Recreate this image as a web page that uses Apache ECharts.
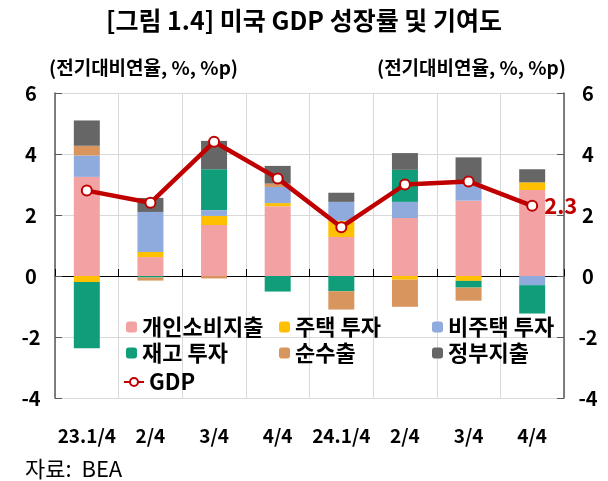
<!DOCTYPE html>
<html>
<head>
<meta charset="utf-8">
<script src="https://cdn.jsdelivr.net/npm/echarts@6/dist/echarts.min.js"></script>
<style>html,body{margin:0;padding:0;background:#fff}#c{width:608px;height:481px}</style>
</head>
<body>
<div id="c"></div>
<script>
var categories = ['23.1/4', '2/4', '3/4', '4/4', '24.1/4', '2/4', '3/4', '4/4'];
var personal  = [3.25, 0.62, 1.67, 2.29, 1.28, 1.90, 2.47, 2.82];
var housing   = [-0.20, 0.17, 0.30, 0.10, 0.53, -0.12, -0.16, 0.25];
var nonres    = [0.70, 1.31, 0.19, 0.53, 0.62, 0.53, 0.57, -0.30];
var inventory = [-2.17, -0.05, 1.34, -0.51, -0.50, 1.05, -0.22, -0.93];
var netExport = [0.32, -0.10, -0.08, 0.11, -0.60, -0.89, -0.43, 0];
var gov       = [0.83, 0.46, 0.93, 0.58, 0.30, 0.55, 0.85, 0.43];
var gdp       = [2.8, 2.4, 4.4, 3.2, 1.6, 3.0, 3.1, 2.3];
var yTicks    = [-4, -2, 0, 2, 4, 6];

var FONT = '"Noto Sans CJK KR", "Noto Sans", sans-serif';
var chart = echarts.init(document.getElementById('c'), null, {renderer: 'canvas'});

function barSeries(name, data, color) {
  return {
    name: name, type: 'bar', stack: 'total', data: data, barWidth: 26,
    itemStyle: {color: color}, xAxisIndex: 0, yAxisIndex: 0
  };
}

var legendText = {fontFamily: FONT, fontSize: 22, fontWeight: 'bold', color: '#000'};

var gdpData = gdp.map(function (v, i) {
  if (i === gdp.length - 1) {
    return {value: v, label: {show: true, position: 'right', distance: 6,
      formatter: function (p) { return p.value.toFixed(1); },
      color: '#C00000', fontFamily: FONT, fontSize: 22, fontWeight: 'bold'}};
  }
  return v;
});

chart.setOption({
  animation: false,
  backgroundColor: '#fff',
  title: [
    {text: '[그림 1.4] 미국 GDP 성장률 및 기여도', left: 'center', top: 3,
     textStyle: {fontFamily: FONT, fontSize: 25, fontWeight: 'bold', color: '#000'}},
    {text: '자료:  BEA', left: 20, top: 453,
     textStyle: {fontFamily: FONT, fontSize: 22, fontWeight: 'normal', color: '#000'}}
  ],
  grid: {left: 55, right: 44, top: 93, bottom: 83, containLabel: false},
  legend: [
    {data: ['개인소비지출', '재고 투자'], orient: 'vertical', left: 121, top: 311,
     itemWidth: 11, itemHeight: 11, itemGap: 4, textStyle: legendText, selectedMode: false},
    {data: ['주택 투자', '순수출'], orient: 'vertical', left: 274, top: 311,
     itemWidth: 11, itemHeight: 11, itemGap: 4, textStyle: legendText, selectedMode: false},
    {data: ['비주택 투자', '정부지출'], orient: 'vertical', left: 427, top: 311,
     itemWidth: 11, itemHeight: 11, itemGap: 4, textStyle: legendText, selectedMode: false},
    {data: ['GDP'], left: 118, top: 366, itemWidth: 20, itemHeight: 10,
     textStyle: legendText, selectedMode: false}
  ],
  xAxis: [
    {type: 'category', data: categories, position: 'bottom',
     axisLine: {onZero: true, lineStyle: {color: '#000', width: 1}},
     axisTick: {show: true, inside: true, length: 7, lineStyle: {color: '#000'}},
     axisLabel: {show: false},
     splitLine: {show: true, lineStyle: {color: '#D9D9D9', width: 1}}},
    {type: 'category', data: categories, position: 'bottom',
     axisLine: {show: false, onZero: false}, axisTick: {show: false},
     splitLine: {show: false},
     axisLabel: {show: true, margin: 28, interval: 0, color: '#000',
       fontFamily: FONT, fontSize: 19, fontWeight: 'bold'}}
  ],
  yAxis: [
    {type: 'value', min: -4, max: 6, interval: 2, position: 'left',
     name: '(전기대비연율, %, %p)', nameLocation: 'end', nameGap: 16,
     nameTextStyle: {fontFamily: FONT, fontSize: 19, fontWeight: 'bold', color: '#000',
       align: 'left', padding: [0, 0, 0, -6]},
     axisLine: {show: true, lineStyle: {color: '#595959', width: 1.5}},
     axisTick: {show: true, inside: true, length: 7, lineStyle: {color: '#595959'}},
     axisLabel: {color: '#000', fontFamily: FONT, fontSize: 20, fontWeight: 'bold',
       margin: 24, align: 'center'},
     splitLine: {show: true, lineStyle: {color: '#D9D9D9', width: 1}}},
    {type: 'value', min: -4, max: 6, interval: 2, position: 'right',
     name: '(전기대비연율, %, %p)', nameLocation: 'end', nameGap: 16,
     nameTextStyle: {fontFamily: FONT, fontSize: 19, fontWeight: 'bold', color: '#000',
       align: 'right', padding: [0, -2, 0, 0]},
     axisLine: {show: true, lineStyle: {color: '#595959', width: 1.5}},
     axisTick: {show: true, inside: true, length: 7, lineStyle: {color: '#595959'}},
     axisLabel: {color: '#000', fontFamily: FONT, fontSize: 20, fontWeight: 'bold',
       margin: 24, align: 'center'},
     splitLine: {show: false}}
  ],
  series: [
    barSeries('개인소비지출', personal, '#F2A2A2'),
    barSeries('주택 투자', housing, '#FFC000'),
    barSeries('비주택 투자', nonres, '#8FAADC'),
    barSeries('재고 투자', inventory, '#0F9D7A'),
    barSeries('순수출', netExport, '#D9955E'),
    barSeries('정부지출', gov, '#666666'),
    {name: 'GDP', type: 'line', data: gdpData, xAxisIndex: 0, yAxisIndex: 0,
     symbol: 'circle', symbolSize: 10, z: 5,
     lineStyle: {color: '#C00000', width: 4.5},
     itemStyle: {color: '#fff', borderColor: '#C00000', borderWidth: 2}}
  ]
});
</script>
</body>
</html>
